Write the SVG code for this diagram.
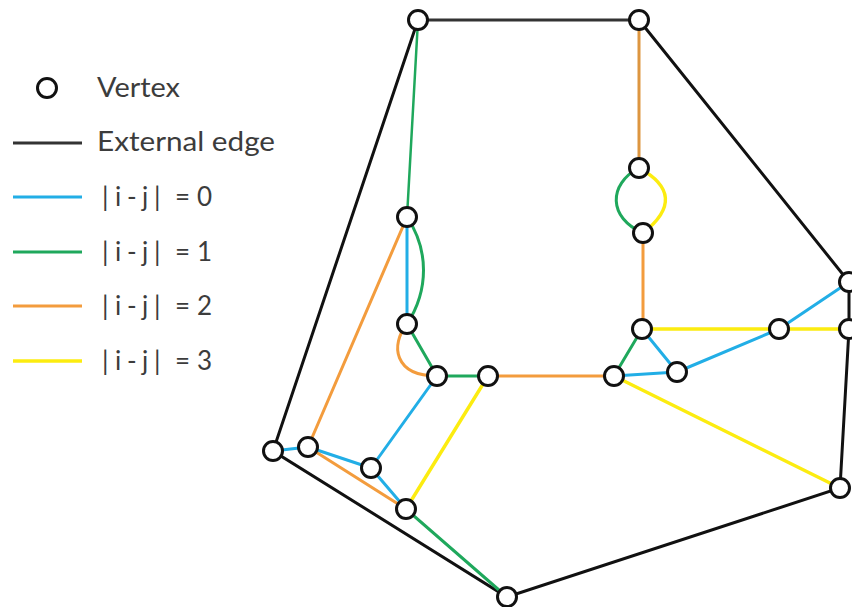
<svg xmlns="http://www.w3.org/2000/svg" width="852" height="607" viewBox="0 0 852 607">
<style>
.e{fill:none;stroke-width:3;stroke-linecap:round}
.k{stroke:#111;}
.b{stroke:#22aee6}
.g{stroke:#1fa85c}
.o{stroke:#f39c3d}
.y{stroke:#fcec10;stroke-width:3.4}
.n{stroke-width:2.5}
.v{fill:#fff;stroke:#111;stroke-width:3}
.t{font-family:"Lato","Liberation Sans",sans-serif;font-size:26px;fill:#3c3c3c}
</style>
<rect width="852" height="607" fill="#fff"/>
<g id="connectors">
<path class="e k" d="M639 20L849 282V329L840 488L507 597L273 451L418 20"/>
<path class="e" style="stroke:#333" d="M418 20H639"/>
<path class="e g n" d="M418 20L407 217"/>
<path class="e" style="stroke:#dd9640" d="M639 20V168"/>
<path class="e o" d="M643 233V329"/>
<path class="e g" d="M639 168C608 184 608 218 643 233"/>
<path class="e y" d="M639 168C672 186 675 208 643 233"/>
<path class="e b" d="M407 217L407 324"/>
<path class="e g" d="M407 217C429 250 429 290 407 324"/>
<path class="e o" d="M407 217L308 447"/>
<path class="e g" d="M407 324L437 376"/>
<path class="e o" d="M407 324C390 345 394 376 437 376"/>
<path class="e g" d="M437 376H488"/>
<path class="e o" d="M488 376H614"/>
<path class="e b" d="M437 376L371 468"/>
<path class="e y" d="M488 376L406 509"/>
<path class="e b" d="M273 451L308 447"/>
<path class="e b" d="M308 447L371 468"/>
<path class="e o" d="M308 447L406 509"/>
<path class="e b" d="M371 468L406 509"/>
<path class="e g" d="M406 509L507 597"/>
<path class="e g" d="M614 376L642 329"/>
<path class="e b" d="M614 376L677 372"/>
<path class="e b" d="M642 329L677 372"/>
<path class="e b" d="M677 372L779 329"/>
<path class="e b" d="M779 329L849 282"/>
<path class="e y" d="M642 329H849"/>
<path class="e y" d="M614 376L840 488"/>
</g>
<g id="v1"><circle class="v" cx="418" cy="20" r="9.5"/></g>
<g id="v2"><circle class="v" cx="639" cy="20" r="9.5"/></g>
<g id="v3"><circle class="v" cx="639" cy="168" r="9.5"/></g>
<g id="v4"><circle class="v" cx="643" cy="233" r="9.5"/></g>
<g id="v5"><circle class="v" cx="407" cy="217" r="9.5"/></g>
<g id="v6"><circle class="v" cx="407" cy="324" r="9.5"/></g>
<g id="v7"><circle class="v" cx="437" cy="376" r="9.5"/></g>
<g id="v8"><circle class="v" cx="488" cy="376" r="9.5"/></g>
<g id="v9"><circle class="v" cx="614" cy="376" r="9.5"/></g>
<g id="v10"><circle class="v" cx="642" cy="329" r="9.5"/></g>
<g id="v11"><circle class="v" cx="677" cy="372" r="9.5"/></g>
<g id="v12"><circle class="v" cx="779" cy="329" r="9.5"/></g>
<g id="v13"><circle class="v" cx="849" cy="282" r="9.5"/></g>
<g id="v14"><circle class="v" cx="849" cy="329" r="9.5"/></g>
<g id="v15"><circle class="v" cx="840" cy="488" r="9.5"/></g>
<g id="v16"><circle class="v" cx="507" cy="597" r="9.5"/></g>
<g id="v17"><circle class="v" cx="406" cy="509" r="9.5"/></g>
<g id="v18"><circle class="v" cx="371" cy="468" r="9.5"/></g>
<g id="v19"><circle class="v" cx="308" cy="447" r="9.5"/></g>
<g id="v20"><circle class="v" cx="273" cy="451" r="9.5"/></g>
<g id="legend">
<circle class="v" cx="47" cy="88" r="9.5"/>
<path class="e k" style="stroke:#333;stroke-linecap:butt" d="M13 143H82"/>
<path class="e b" style="stroke-linecap:butt" d="M13 197H82"/>
<path class="e g" style="stroke-linecap:butt" d="M13 252H82"/>
<path class="e o" style="stroke-linecap:butt" d="M13 306H82"/>
<path class="e y" style="stroke-linecap:butt" d="M13 361H82"/>
<text class="t" x="97" y="97" textLength="83" lengthAdjust="spacingAndGlyphs">Vertex</text>
<text class="t" x="97" y="151" textLength="178" lengthAdjust="spacingAndGlyphs">External edge</text>
<text class="t" x="102 115 120 127 135 142 154 165 175 190 197" y="206">|i - j| = 0</text>
<text class="t" x="102 115 120 127 135 142 154 165 175 190 197" y="261">|i - j| = 1</text>
<text class="t" x="102 115 120 127 135 142 154 165 175 190 197" y="315">|i - j| = 2</text>
<text class="t" x="102 115 120 127 135 142 154 165 175 190 197" y="370">|i - j| = 3</text>
</g>
</svg>
